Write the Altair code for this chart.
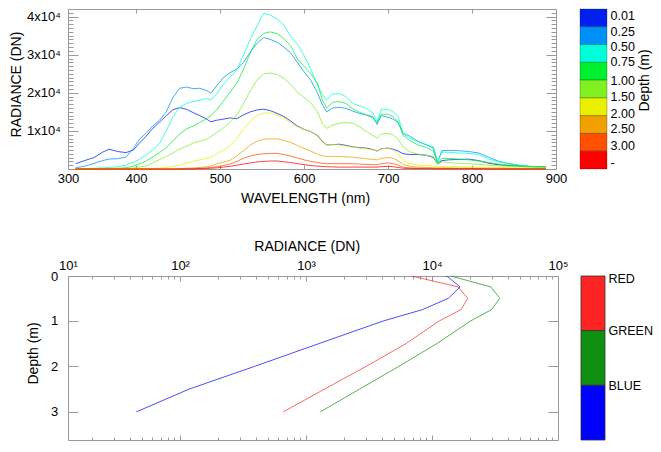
import altair as alt
import pandas as pd

FONT = "Liberation Sans"
FRAME = "#9a9a9a"

# ---------------- data: spectra (top panel) ----------------
wavelength = [328, 340, 350, 360, 368, 378, 388, 397, 404, 412,
              420, 428, 436, 444, 452, 460, 468, 476, 484, 489,
              496, 504, 512, 520, 528, 536, 544, 552, 560, 568,
              576, 584, 592, 600, 608, 616, 622, 627, 634, 642,
              650, 658, 666, 674, 682, 687, 692, 700, 706, 712,
              718, 726, 736, 746, 754, 759, 764, 772, 784, 796,
              808, 820, 832, 844, 856, 868, 878, 888]

depth_labels = ["0.01", "0.25", "0.50", "0.75", "1.00", "1.50", "2.00", "2.50", "3.00"]
bar_labels = ["0.01", "0.25", "0.50", "0.75", "1.00", "1.50", "2.00", "2.50", "3.00", "-"]

rad_001 = [1400, 2300, 3000, 4400, 5200, 4600, 4300, 5000, 6800, 8600,
           10700, 12300, 14000, 15600, 16100, 15700, 14800, 14000, 13100, 12400,
           12800, 13100, 13400, 13200, 14200, 15000, 15500, 15700, 15300, 14600,
           13800, 12600, 11300, 10400, 9800, 8800, 7200, 6300, 6400, 6500,
           6200, 5800, 5600, 5500, 5100, 4700, 5300, 5500, 5200, 4700,
           4000, 3800, 3800, 3600, 3000, 1400, 2200, 2400, 2500, 2600,
           2200, 1500, 1100, 900, 750, 600, 550, 500]
rad_025 = [300, 800, 1500, 2200, 2600, 2700, 3100, 5500, 7800, 9400,
           11300, 12800, 15000, 18800, 21200, 21500, 21100, 21200, 20600, 19900,
           21800, 24000, 25300, 26200, 28000, 30700, 33000, 34500, 34000, 33300,
           32000, 30500, 28000, 25500, 23300, 20000, 16800, 15000, 16000, 16200,
           15900, 15200, 14600, 14200, 13700, 11700, 14000, 13600, 13100, 12200,
           9400, 8600, 7200, 6300, 5500, 1800, 4800, 4900, 4800, 4600,
           4200, 3100, 2000, 1400, 1000, 700, 600, 500]
rad_050 = [0, 100, 200, 300, 400, 600, 1000, 1800, 2500, 3700,
           5100, 6700, 10000, 13800, 16200, 17200, 17700, 18100, 18500, 18100,
           19700, 22200, 24100, 26000, 30000, 34000, 37600, 40900, 40400, 39300,
           37800, 34800, 32800, 29800, 26200, 22000, 19500, 18100, 19700, 19800,
           19000, 17200, 16600, 15900, 14700, 12300, 15700, 15700, 15000, 13800,
           9200, 8100, 7100, 6400, 5800, 2000, 4400, 4400, 4200, 4100,
           3800, 2600, 1900, 1400, 1000, 700, 600, 500]
rad_075 = [0, 0, 0, 0, 100, 200, 300, 800, 1300, 2100,
           3200, 4300, 5600, 7400, 9200, 10500, 11300, 12200, 13200, 14000,
           15500, 17800, 20200, 22500, 26200, 30500, 34000, 35600, 36000, 35500,
           34200, 32400, 28900, 27000, 25000, 22500, 18000, 16000, 17500, 17700,
           17200, 15800, 14900, 14200, 13300, 12200, 14400, 14400, 13700, 12500,
           8800, 7400, 6300, 5600, 4700, 1400, 2800, 2800, 2600, 2400,
           2100, 1700, 1300, 1000, 800, 700, 600, 500]
rad_100 = [0, 0, 0, 0, 0, 0, 100, 300, 500, 800,
           1600, 2500, 3300, 4200, 5200, 6000, 6800, 7300, 7800, 8500,
           9600, 10800, 12200, 14200, 17200, 20500, 23300, 25000, 25200, 24800,
           23800, 22200, 20200, 18800, 17400, 15000, 11800, 10700, 11500, 12000,
           12200, 12000, 11100, 9900, 8800, 8100, 9200, 9300, 9000, 7800,
           5800, 4500, 3900, 3600, 3300, 1200, 1900, 1700, 1500, 1400,
           1200, 1000, 800, 700, 600, 500, 400, 400]
rad_150 = [0, 0, 0, 0, 0, 0, 0, 0, 0, 0,
           100, 200, 400, 700, 1000, 1500, 2000, 2400, 2800, 3100,
           4000, 4900, 6200, 8000, 10500, 12500, 14000, 14700, 14700, 14100,
           13400, 12200, 11100, 10400, 9800, 8600, 7000, 6300, 6400, 6300,
           6000, 5700, 5500, 5300, 5000, 4700, 5300, 5500, 5000, 4000,
           2400, 1400, 1000, 900, 800, 600, 650, 600, 600, 550,
           500, 450, 400, 350, 300, 300, 250, 200]
rad_200 = [0, 0, 0, 0, 0, 0, 0, 0, 0, 0,
           0, 0, 0, 0, 100, 200, 300, 400, 600, 800,
           1300, 1800, 2300, 3400, 4800, 6300, 7300, 7800, 7900, 7900,
           7500, 7000, 6200, 5400, 4700, 3900, 3500, 3300, 3300, 3300,
           3200, 3100, 2900, 2700, 2500, 2400, 2800, 3000, 2800, 2200,
           1200, 700, 500, 400, 350, 300, 300, 300, 250, 250,
           200, 200, 150, 150, 100, 100, 100, 100]
rad_250 = [0, 0, 0, 0, 0, 0, 0, 0, 0, 0,
           0, 0, 0, 0, 0, 100, 100, 200, 300, 400,
           600, 900, 1300, 2000, 2800, 3400, 3800, 4000, 4100, 4100,
           3800, 3400, 2900, 2400, 2000, 1700, 1500, 1400, 1400, 1400,
           1400, 1400, 1300, 1200, 1150, 1100, 1400, 1600, 1400, 1000,
           500, 300, 200, 200, 150, 100, 100, 100, 100, 100,
           100, 50, 50, 50, 50, 50, 50, 50]
rad_300 = [0, 0, 0, 0, 0, 0, 0, 0, 0, 0,
           0, 0, 0, 0, 0, 0, 0, 100, 100, 200,
           300, 500, 700, 1000, 1300, 1600, 1850, 2000, 2100, 2100,
           1900, 1700, 1400, 1150, 900, 750, 650, 600, 550, 500,
           500, 500, 500, 500, 500, 500, 600, 700, 600, 400,
           200, 100, 100, 100, 50, 50, 50, 50, 50, 50,
           50, 0, 0, 0, 0, 0, 0, 0]
spectra = [rad_001, rad_025, rad_050, rad_075, rad_100, rad_150, rad_200, rad_250, rad_300]

# ---------------- data: band radiance vs depth (bottom panel) ----------------
depth_m = [0.01, 0.25, 0.5, 0.75, 1.0, 1.5, 2.0, 2.5, 3.0]
band_names = ["RED", "GREEN", "BLUE"]
red_band = [6900, 16100, 19200, 17000, 11400, 6200, 3000, 1400, 660]
green_band = [14100, 29300, 34500, 29700, 20200, 10900, 5450, 2660, 1300]
blue_band = [13100, 16700, 13500, 8400, 4100, 1260, 390, 118, 45]

# ---------------- styles ----------------
depth_colors = ["#0020f0", "#0090f8", "#00ffd8", "#00f030", "#80f020",
                "#e8f000", "#f0a000", "#ff5000", "#ff0000"]
band_colors = ["#ff2424", "#109010", "#0000ff"]
bar_label_pos = [0, 1.25, 2.11, 2.98, 4.03, 4.93, 5.88, 6.7, 7.65, 9]
band_label_pos = [0.05, 1, 2]

top_rows = []
for lab, col, series in zip(depth_labels, depth_colors, spectra):
    for w, r in zip(wavelength, series):
        top_rows.append({"wl": w, "rad": r, "depth": lab, "col": col})
top_df = pd.DataFrame(top_rows)

bot_rows = []
for name, col, series in zip(band_names, band_colors, [red_band, green_band, blue_band]):
    for d, r in zip(depth_m, series):
        bot_rows.append({"depth": d, "rad": r, "band": name, "col": col})
bot_df = pd.DataFrame(bot_rows)


def axis(**kw):
    base = dict(grid=False, domain=False, tickColor=FRAME, tickWidth=1,
                labelFont=FONT, labelFontSize=13, labelColor="#000000", labelFlush=False,
                labelOverlap=False,
                titleFont=FONT, titleFontSize=14, titleFontWeight="normal", titleColor="#000000")
    base.update(kw)
    return alt.Axis(**base)


def tick_axis(orient, values, size):
    return axis(orient=orient, values=values, tickSize=size, offset=-size,
                labels=False, title=None)


# ---------------- top panel ----------------
TW, TH = 488, 160
xs_top = alt.Scale(domain=[319, 900], nice=False, zero=False)
ys_top = alt.Scale(domain=[0, 42000], nice=False, zero=False)
anchor_top = pd.DataFrame({"wl": [600], "rad": [20000]})
minor_top = [v for v in range(1000, 42000, 1000) if v % 10000]

top_lines = alt.Chart(top_df).mark_line(strokeWidth=1, opacity=0.75).encode(
    x=alt.X("wl:Q", scale=xs_top, axis=axis(
        orient="bottom", values=[319, 400, 500, 600, 700, 800, 900],
        labelExpr="datum.value < 350 ? '300' : format(datum.value, 'd')",
        tickSize=4, offset=-4, labelPadding=3,
        title="WAVELENGTH (nm)", titleX=237, titleY=33,
        titleBaseline="middle", titleAlign="center")),
    y=alt.Y("rad:Q", scale=ys_top, axis=axis(
        orient="left", values=[10000, 20000, 30000, 40000],
        labelExpr="(datum.value / 10000) + 'x10\u2074'",
        tickSize=10, offset=-10, labelPadding=7.7,
        title="RADIANCE (DN)", titleAngle=270, titleX=-69, titleY=75,
        titleBaseline="top", titleAlign="center")),
    color=alt.Color("col:N", scale=None),
    detail="depth:N",
)
top_t1 = alt.Chart(anchor_top).mark_point(opacity=0).encode(
    x=alt.X("wl:Q", scale=xs_top, axis=tick_axis("top", [400, 500, 600, 700, 800], 4)),
    y=alt.Y("rad:Q", scale=ys_top, axis=tick_axis("right", [10000, 20000, 30000, 40000], 10)),
)
top_t2 = alt.Chart(anchor_top).mark_point(opacity=0).encode(
    x=alt.X("wl:Q", scale=xs_top, axis=None),
    y=alt.Y("rad:Q", scale=ys_top, axis=tick_axis("left", minor_top, 5)),
)
top_t3 = alt.Chart(anchor_top).mark_point(opacity=0).encode(
    x=alt.X("wl:Q", scale=xs_top, axis=None),
    y=alt.Y("rad:Q", scale=ys_top, axis=tick_axis("right", minor_top, 5)),
)
top_main = alt.layer(top_lines, top_t1, top_t2, top_t3).resolve_axis(
    x="independent", y="independent").properties(width=TW, height=TH)

top_bar_df = pd.DataFrame({"lo": list(range(9)), "hi": list(range(1, 10)),
                           "col": depth_colors, "x0": [0] * 9, "x1": [1] * 9})
top_expr = ("[" + ",".join("'%s'" % l for l in bar_labels) + "][indexof(["
            + ",".join(str(p) for p in bar_label_pos) + "], datum.value)]")
top_bar = alt.Chart(top_bar_df).mark_rect(stroke="#000000", strokeOpacity=0.25, strokeWidth=1).encode(
    x=alt.X("x0:Q", scale=alt.Scale(domain=[0, 1], nice=False), axis=None),
    x2="x1:Q",
    y=alt.Y("lo:Q", scale=alt.Scale(domain=[0, 9], reverse=True, nice=False, zero=False),
            axis=axis(orient="right", values=bar_label_pos, labelExpr=top_expr,
                      ticks=False, tickSize=0, labelPadding=3, labelFontSize=12.5,
                      labelFlush=True,
                      title="Depth (m)", titleAngle=270, titleX=30.5, titleY=71,
                      titleBaseline="top", titleAlign="center")),
    y2="hi:Q",
    color=alt.Color("col:N", scale=None),
).properties(width=27, height=TH, view=alt.ViewBackground(stroke="transparent"))

# ---------------- bottom panel ----------------
BW, BH = 490, 164
xs_bot = alt.Scale(type="log", domain=[12.9, 100000], nice=False)
ys_bot = alt.Scale(domain=[0.01, 3.62], reverse=True, nice=False, zero=False)
anchor_bot = pd.DataFrame({"rad": [1000], "depth": [1.0]})
minor_log = [m * 10 ** e for e in range(1, 5) for m in range(2, 10)]

bot_lines = alt.Chart(bot_df).mark_line(strokeWidth=1, opacity=0.7).encode(
    x=alt.X("rad:Q", scale=xs_bot, axis=axis(
        orient="top", values=[12.9, 100, 1000, 10000, 100000],
        labelExpr=("datum.value < 50 ? '10\u00b9' : datum.value < 500 ? '10\u00b2' : "
                   "datum.value < 5000 ? '10\u00b3' : datum.value < 50000 ? '10\u2074' : '10\u2075'"),
        tickSize=5, offset=-5, labelPadding=4,
        title="RADIANCE (DN)", titleX=238.7, titleY=-35,
        titleBaseline="middle", titleAlign="center")),
    y=alt.Y("depth:Q", scale=ys_bot, axis=axis(
        orient="left", values=[0.01, 1, 2, 3],
        labelExpr="datum.value < 0.5 ? '0' : format(datum.value, 'd')",
        tickSize=10, offset=-10, labelPadding=10.3,
        title="Depth (m)", titleAngle=270, titleX=-51.3, titleY=77,
        titleBaseline="top", titleAlign="center")),
    color=alt.Color("col:N", scale=None),
    detail="band:N",
    order=alt.Order("depth:Q"),
)
bot_t1 = alt.Chart(anchor_bot).mark_point(opacity=0).encode(
    x=alt.X("rad:Q", scale=xs_bot, axis=tick_axis("bottom", [100, 1000, 10000], 5)),
    y=alt.Y("depth:Q", scale=ys_bot, axis=tick_axis("right", [1, 2, 3], 10)),
)
bot_t2 = alt.Chart(anchor_bot).mark_point(opacity=0).encode(
    x=alt.X("rad:Q", scale=xs_bot, axis=tick_axis("top", minor_log, 3)),
    y=alt.Y("depth:Q", scale=ys_bot, axis=None),
)
bot_t3 = alt.Chart(anchor_bot).mark_point(opacity=0).encode(
    x=alt.X("rad:Q", scale=xs_bot, axis=tick_axis("bottom", minor_log, 3)),
    y=alt.Y("depth:Q", scale=ys_bot, axis=None),
)
bot_main = alt.layer(bot_lines, bot_t1, bot_t2, bot_t3).resolve_axis(
    x="independent", y="independent").properties(width=BW, height=BH)

bot_bar_df = pd.DataFrame({"lo": [0, 1, 2], "hi": [1, 2, 3], "col": band_colors,
                           "x0": [0] * 3, "x1": [1] * 3})
bot_expr = ("[" + ",".join("'%s'" % l for l in band_names) + "][indexof(["
            + ",".join(str(p) for p in band_label_pos) + "], datum.value)]")
bot_bar = alt.Chart(bot_bar_df).mark_rect(stroke="#303030", strokeWidth=0.8).encode(
    x=alt.X("x0:Q", scale=alt.Scale(domain=[0, 1], nice=False), axis=None),
    x2="x1:Q",
    y=alt.Y("lo:Q", scale=alt.Scale(domain=[0, 3], reverse=True, nice=False, zero=False),
            axis=axis(orient="right", values=band_label_pos, labelExpr=bot_expr,
                      ticks=False, tickSize=0, labelPadding=3, labelFontSize=12.5,
                      title=None)),
    y2="hi:Q",
    color=alt.Color("col:N", scale=None),
).properties(width=24, height=BH, view=alt.ViewBackground(stroke="transparent"))

row1 = alt.hconcat(top_main, top_bar, spacing=11)
row2 = alt.hconcat(bot_main, bot_bar, spacing=11)

chart = alt.vconcat(row1, row2, spacing=32).properties(
    padding=0, background="white"
).configure_view(stroke=FRAME, strokeWidth=1)

chart.save("out.html", embed_options={"renderer": "svg", "actions": False})
